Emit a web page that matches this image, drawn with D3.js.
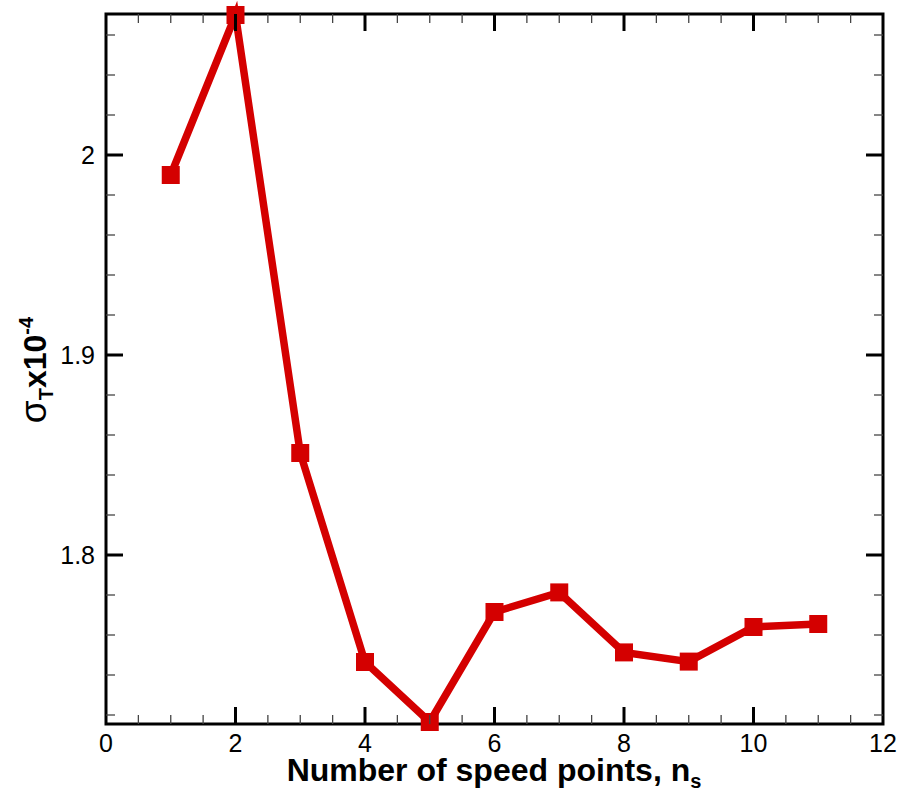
<!DOCTYPE html>
<html>
<head>
<meta charset="utf-8">
<script src="https://cdn.jsdelivr.net/npm/d3@7"></script>
<style>
  html, body { margin: 0; padding: 0; background: #fff; }
  svg { display: block; font-family: "Liberation Sans", Arial, sans-serif; }
</style>
</head>
<body>
<svg id="chart"></svg>
<script>
// data
const speedPoints = [1, 2, 3, 4, 5, 6, 7, 8, 9, 10, 11];
const sigmaT = [1.990, 2.070, 1.851, 1.7465, 1.7165, 1.7715, 1.7813, 1.7513, 1.7467, 1.764, 1.7655];
const xTicks = [0, 2, 4, 6, 8, 10, 12];
const yTicks = [1.8, 1.9, 2.0];

const width = 901;
const height = 796;
const pLeft = 106, pRight = 883, pTop = 14, pBottom = 724;
const red = "#d40000";

const svg = d3.select("#chart")
  .attr("width", width)
  .attr("height", height);

const x = d3.scaleLinear().domain([0, 12]).range([pLeft, pRight]);
const y = d3.scaleLinear().domain([1.7155, 2.0705]).range([pBottom, pTop]);

// frame
svg.append("rect")
  .attr("x", pLeft).attr("y", pTop)
  .attr("width", pRight - pLeft).attr("height", pBottom - pTop)
  .attr("fill", "none").attr("stroke", "#000").attr("stroke-width", 3);

// series
const line = d3.line()
  .x((d, i) => x(speedPoints[i]))
  .y(d => y(d));

svg.append("path")
  .datum(sigmaT)
  .attr("d", line)
  .attr("fill", "none")
  .attr("stroke", red)
  .attr("stroke-width", 7.5)
  .attr("stroke-linejoin", "miter");

const ms = 18;
svg.selectAll(".mk")
  .data(sigmaT)
  .enter().append("rect")
  .attr("class", "mk")
  .attr("x", (d, i) => x(speedPoints[i]) - ms / 2)
  .attr("y", d => y(d) - ms / 2)
  .attr("width", ms).attr("height", ms)
  .attr("fill", red);

// ticks, inward on all four sides
const majLen = 17, minLen = 9;
const xMinor = d3.range(0, 12.001, 0.5).filter(v => !xTicks.includes(v));
const yMinor = d3.range(1.72, 2.0705, 0.02).filter(v => !yTicks.some(t => Math.abs(t - v) < 1e-6));

function tickLines(g, vals, horiz, len, w, color) {
  vals.forEach(v => {
    if (horiz) {
      const px = x(v);
      g.append("line").attr("x1", px).attr("x2", px).attr("y1", pBottom).attr("y2", pBottom - len)
        .attr("stroke", color).attr("stroke-width", w);
      g.append("line").attr("x1", px).attr("x2", px).attr("y1", pTop).attr("y2", pTop + len)
        .attr("stroke", color).attr("stroke-width", w);
    } else {
      const py = y(v);
      g.append("line").attr("y1", py).attr("y2", py).attr("x1", pLeft).attr("x2", pLeft + len)
        .attr("stroke", color).attr("stroke-width", w);
      g.append("line").attr("y1", py).attr("y2", py).attr("x1", pRight).attr("x2", pRight - len)
        .attr("stroke", color).attr("stroke-width", w);
    }
  });
}
const tg = svg.append("g");
tickLines(tg, xMinor, true, minLen, 1.3, "#444");
tickLines(tg, yMinor, false, minLen, 1.3, "#444");
tickLines(tg, xTicks.filter(v => v > 0 && v < 12), true, majLen, 3, "#000");
tickLines(tg, yTicks, false, majLen, 3, "#000");

// tick labels
svg.selectAll(".xl")
  .data(xTicks)
  .enter().append("text")
  .attr("x", d => x(d))
  .attr("y", 752)
  .attr("text-anchor", "middle")
  .attr("font-size", 25)
  .text(d => d);

svg.selectAll(".yl")
  .data(yTicks)
  .enter().append("text")
  .attr("x", 95)
  .attr("y", d => y(d) + 9)
  .attr("text-anchor", "end")
  .attr("font-size", 25)
  .text(d => d3.format("")(+d.toFixed(1)));

// axis titles
const xt = svg.append("text")
  .attr("x", 494)
  .attr("y", 781)
  .attr("text-anchor", "middle")
  .attr("font-size", 32)
  .attr("font-weight", "bold");
xt.append("tspan").text("Number of speed points, n");
xt.append("tspan").attr("font-size", 20).attr("dy", 7).text("s");

const yt = svg.append("text")
  .attr("transform", "translate(46,370) rotate(-90)")
  .attr("text-anchor", "middle")
  .attr("font-size", 32)
  .attr("font-weight", "bold");
yt.append("tspan").attr("font-weight", "normal").attr("font-size", 37).text("σ");
yt.append("tspan").attr("font-size", 20).attr("dy", 7).text("T");
yt.append("tspan").attr("dy", -7).text("x10");
yt.append("tspan").attr("font-size", 20).attr("dy", -13).text("-4");
</script>
</body>
</html>
